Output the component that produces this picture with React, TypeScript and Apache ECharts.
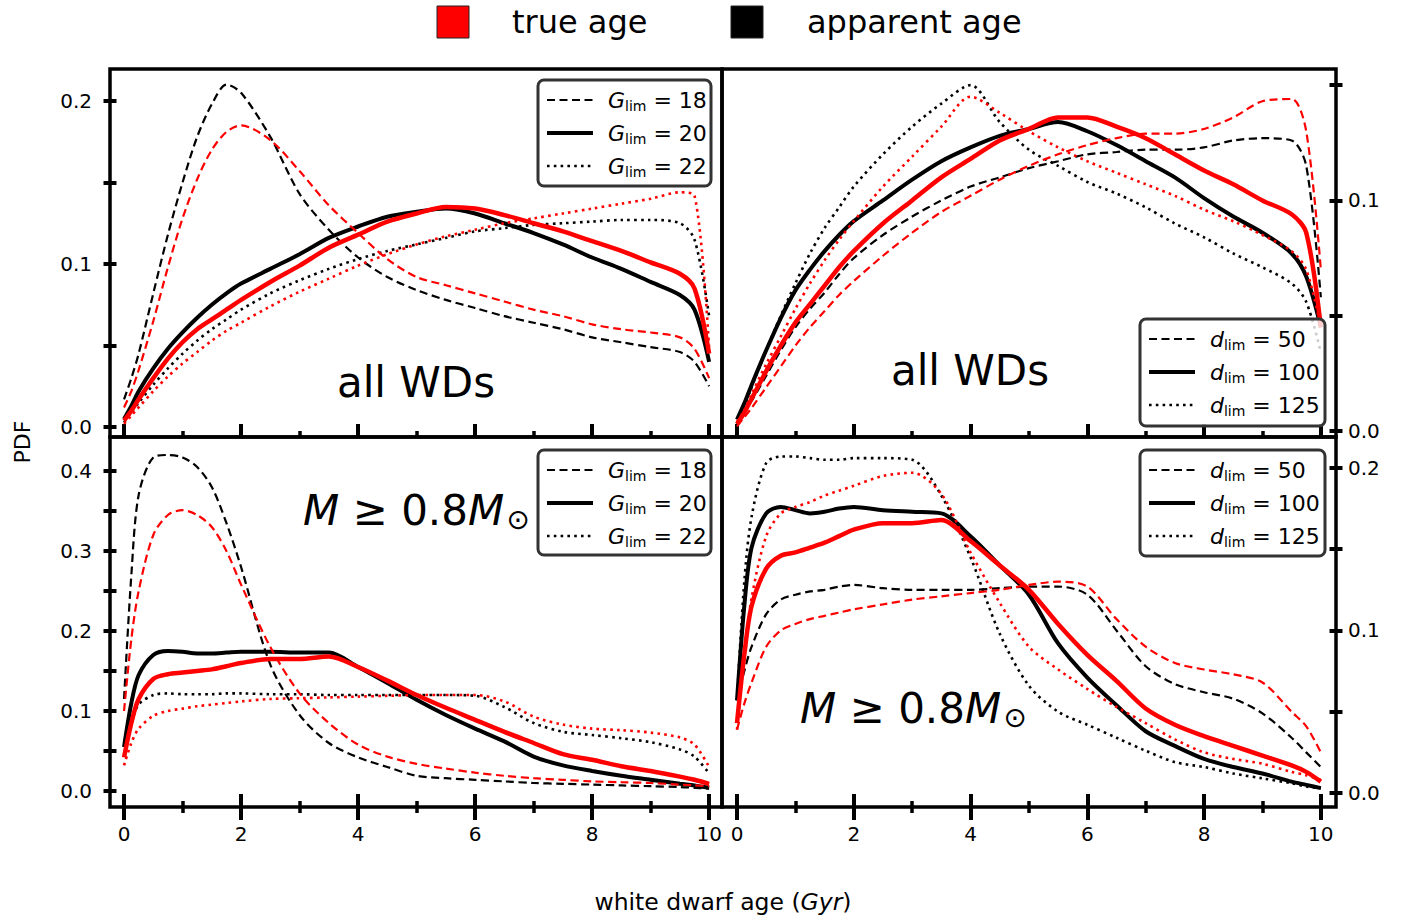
import React, { useEffect, useRef } from 'react';
import * as echarts from 'echarts';

// shared ages (Gyr)
const X = [0, 0.125, 0.25, 0.5, 0.75, 1, 1.25, 1.5, 1.75, 2, 2.5, 3, 3.5, 4, 4.5, 5, 5.5, 6, 6.5, 7, 7.5, 8, 8.5, 9, 9.5, 9.75, 10];

// top-left: all WDs, G_lim
const tlApp18 = [0.017, 0.03, 0.045, 0.082, 0.118, 0.15, 0.178, 0.198, 0.21, 0.205, 0.178, 0.143, 0.121, 0.104, 0.092, 0.084, 0.078, 0.073, 0.068, 0.064, 0.06, 0.055, 0.052, 0.049, 0.046, 0.04, 0.025];
const tlTrue18 = [0.012, 0.022, 0.035, 0.065, 0.098, 0.128, 0.152, 0.17, 0.181, 0.185, 0.176, 0.157, 0.136, 0.119, 0.103, 0.092, 0.087, 0.082, 0.077, 0.072, 0.068, 0.063, 0.06, 0.058, 0.055, 0.048, 0.03];
const tlApp20 = [0.005, 0.013, 0.022, 0.036, 0.048, 0.058, 0.067, 0.075, 0.082, 0.088, 0.097, 0.106, 0.116, 0.123, 0.129, 0.132, 0.134, 0.131, 0.125, 0.119, 0.112, 0.104, 0.097, 0.089, 0.081, 0.072, 0.04];
const tlTrue20 = [0.004, 0.01, 0.017, 0.03, 0.042, 0.052, 0.06, 0.066, 0.072, 0.078, 0.089, 0.099, 0.11, 0.118, 0.126, 0.131, 0.135, 0.134, 0.13, 0.125, 0.12, 0.114, 0.108, 0.101, 0.094, 0.085, 0.045];
const tlApp22 = [0.003, 0.009, 0.015, 0.026, 0.036, 0.045, 0.053, 0.06, 0.066, 0.072, 0.082, 0.09, 0.097, 0.103, 0.108, 0.112, 0.116, 0.12, 0.122, 0.124, 0.125, 0.126, 0.127, 0.127, 0.125, 0.115, 0.068];
const tlTrue22 = [0.002, 0.007, 0.012, 0.022, 0.031, 0.039, 0.046, 0.053, 0.059, 0.064, 0.074, 0.083, 0.091, 0.099, 0.106, 0.112, 0.117, 0.121, 0.125, 0.128, 0.131, 0.134, 0.137, 0.14, 0.144, 0.142, 0.048];

// top-right: all WDs, d_lim
const trApp50 = [0.003, 0.008, 0.013, 0.024, 0.035, 0.045, 0.053, 0.06, 0.068, 0.075, 0.085, 0.093, 0.1, 0.106, 0.11, 0.114, 0.117, 0.12, 0.121, 0.122, 0.122, 0.123, 0.126, 0.127, 0.126, 0.115, 0.058];
const trTrue50 = [0.002, 0.006, 0.01, 0.019, 0.028, 0.037, 0.045, 0.052, 0.059, 0.065, 0.076, 0.086, 0.095, 0.102, 0.109, 0.115, 0.12, 0.124, 0.127, 0.129, 0.129, 0.131, 0.136, 0.143, 0.144, 0.13, 0.07];
const trApp100 = [0.005, 0.012, 0.02, 0.035, 0.049, 0.061, 0.07, 0.078, 0.085, 0.091, 0.1, 0.109, 0.117, 0.123, 0.128, 0.131, 0.134, 0.13, 0.124, 0.117, 0.11, 0.101, 0.093, 0.086, 0.077, 0.067, 0.045];
const trTrue100 = [0.003, 0.008, 0.014, 0.026, 0.037, 0.047, 0.055, 0.063, 0.071, 0.078, 0.09, 0.1, 0.11, 0.118, 0.126, 0.131, 0.136, 0.136, 0.132, 0.127, 0.12, 0.113, 0.107, 0.1, 0.094, 0.086, 0.045];
const trApp125 = [0.005, 0.011, 0.019, 0.035, 0.05, 0.064, 0.077, 0.088, 0.097, 0.106, 0.12, 0.132, 0.142, 0.15, 0.134, 0.122, 0.115, 0.108, 0.103, 0.097, 0.09, 0.084, 0.077, 0.071, 0.064, 0.056, 0.034];
const trTrue125 = [0.004, 0.009, 0.016, 0.029, 0.041, 0.053, 0.064, 0.074, 0.083, 0.091, 0.106, 0.119, 0.132, 0.145, 0.138, 0.13, 0.123, 0.117, 0.112, 0.107, 0.102, 0.096, 0.091, 0.085, 0.078, 0.07, 0.045];

// bottom-left: M >= 0.8 Msun, G_lim
const blApp18 = [0.115, 0.27, 0.37, 0.417, 0.42, 0.417, 0.405, 0.38, 0.335, 0.28, 0.158, 0.095, 0.06, 0.042, 0.03, 0.019, 0.016, 0.014, 0.012, 0.01, 0.009, 0.008, 0.007, 0.006, 0.005, 0.004, 0.003];
const blTrue18 = [0.1, 0.19, 0.25, 0.32, 0.345, 0.351, 0.345, 0.33, 0.3, 0.258, 0.18, 0.122, 0.085, 0.058, 0.043, 0.034, 0.028, 0.023, 0.019, 0.016, 0.014, 0.012, 0.011, 0.01, 0.008, 0.007, 0.006];
const blApp20 = [0.055, 0.11, 0.145, 0.17, 0.175, 0.174, 0.172, 0.172, 0.173, 0.174, 0.174, 0.173, 0.173, 0.155, 0.135, 0.114, 0.095, 0.078, 0.062, 0.043, 0.032, 0.025, 0.019, 0.014, 0.009, 0.007, 0.004];
const blTrue20 = [0.042, 0.085, 0.115, 0.14, 0.146, 0.148, 0.15, 0.152, 0.156, 0.16, 0.165, 0.165, 0.168, 0.155, 0.138, 0.12, 0.104, 0.089, 0.074, 0.06, 0.046, 0.039, 0.031, 0.025, 0.018, 0.014, 0.009];
const blApp22 = [0.045, 0.085, 0.108, 0.12, 0.122, 0.121, 0.121, 0.121, 0.122, 0.122, 0.121, 0.121, 0.12, 0.12, 0.12, 0.12, 0.12, 0.119, 0.105, 0.085, 0.074, 0.07, 0.066, 0.061, 0.052, 0.043, 0.022];
const blTrue22 = [0.032, 0.06, 0.078, 0.094, 0.1, 0.103, 0.106, 0.108, 0.11, 0.112, 0.115, 0.116, 0.117, 0.118, 0.119, 0.12, 0.12, 0.12, 0.112, 0.093, 0.083, 0.078, 0.076, 0.073, 0.067, 0.058, 0.03];

// bottom-right: M >= 0.8 Msun, d_lim
const brApp50 = [0.057, 0.075, 0.09, 0.11, 0.119, 0.122, 0.124, 0.125, 0.127, 0.128, 0.126, 0.125, 0.125, 0.125, 0.126, 0.127, 0.127, 0.122, 0.1, 0.078, 0.067, 0.062, 0.058, 0.049, 0.034, 0.025, 0.016];
const brTrue50 = [0.039, 0.055, 0.068, 0.09, 0.1, 0.104, 0.107, 0.109, 0.111, 0.113, 0.116, 0.119, 0.121, 0.123, 0.125, 0.128, 0.13, 0.127, 0.107, 0.09, 0.08, 0.076, 0.073, 0.068, 0.05, 0.041, 0.025];
const brApp100 = [0.057, 0.115, 0.151, 0.172, 0.176, 0.174, 0.172, 0.173, 0.175, 0.176, 0.174, 0.173, 0.172, 0.158, 0.14, 0.122, 0.092, 0.071, 0.054, 0.038, 0.029, 0.021, 0.016, 0.012, 0.007, 0.005, 0.003];
const brTrue100 = [0.043, 0.085, 0.115, 0.138, 0.146, 0.148, 0.151, 0.154, 0.158, 0.162, 0.166, 0.166, 0.168, 0.155, 0.14, 0.125, 0.104, 0.085, 0.069, 0.052, 0.042, 0.035, 0.029, 0.023, 0.017, 0.013, 0.007];
const brApp125 = [0.057, 0.13, 0.17, 0.203, 0.207, 0.207, 0.206, 0.205, 0.205, 0.206, 0.206, 0.205, 0.183, 0.145, 0.098, 0.066, 0.05, 0.042, 0.034, 0.026, 0.019, 0.016, 0.012, 0.009, 0.006, 0.004, 0.003];
const brTrue125 = [0.039, 0.085, 0.12, 0.158, 0.172, 0.176, 0.179, 0.183, 0.186, 0.189, 0.195, 0.197, 0.184, 0.148, 0.117, 0.09, 0.076, 0.064, 0.053, 0.043, 0.033, 0.025, 0.021, 0.018, 0.013, 0.011, 0.008];

const X_TICKS = [0, 2, 4, 6, 8, 10];
const Y_TICKS_TL = [0, 0.1, 0.2];
const Y_TICKS_TR = [0, 0.1];
const Y_TICKS_BL = [0, 0.1, 0.2, 0.3, 0.4];
const Y_TICKS_BR = [0, 0.1, 0.2];

const G_LABELS = ['18', '20', '22'];
const D_LABELS = ['50', '100', '125'];

const FONT = 'DejaVu Sans';

const STYLES: Record<string, { width: number; type: any }> = {
  dash: { width: 2.2, type: [8, 4.5] },
  solid: { width: 4, type: 'solid' },
  dot: { width: 2.6, type: [2.6, 4.2] },
};

export default function App() {
  const ref = useRef<HTMLDivElement>(null);
  useEffect(() => {
    document.body.style.margin = '0';
    const chart = echarts.init(ref.current!, null, { renderer: 'svg' });

    const grids = [
      { left: 110, top: 69, width: 612, height: 368 },
      { left: 722, top: 69, width: 614, height: 368 },
      { left: 110, top: 437, width: 612, height: 370 },
      { left: 722, top: 437, width: 614, height: 370 },
    ].map((g) => ({ ...g, show: true, borderColor: '#000', borderWidth: 3.5, backgroundColor: 'transparent', z: 3 }));

    const xr = [[-0.24, 10.22], [-0.257, 10.26], [-0.24, 10.22], [-0.257, 10.26]];
    const yr = [[-0.0061, 0.2196], [-0.0026, 0.157], [-0.02, 0.4425], [-0.0086, 0.219]];
    const ySplit = [2, 2, 5, 2];
    const yTicks = [Y_TICKS_TL, Y_TICKS_TR, Y_TICKS_BL, Y_TICKS_BR];

    const fmtX = (v: number) => (Math.abs(v - Math.round(v)) < 1e-6 ? String(Math.round(v)) : '');
    const fmtY = (v: number) => (Math.abs(v * 10 - Math.round(v * 10)) < 1e-6 ? (Math.round(v * 10) / 10).toFixed(1) : '');

    const xAxisDef = (gi: number, labels: boolean, inside: boolean) => ({
      type: 'value', gridIndex: gi, position: 'bottom', min: xr[gi][0], max: xr[gi][1], splitNumber: 5,
      axisLine: { show: false, onZero: false }, splitLine: { show: false },
      axisTick: { show: true, inside, length: 13, customValues: X_TICKS, lineStyle: { color: '#000', width: 4 } },
      minorTick: { show: true, splitNumber: 2, length: 6, lineStyle: { color: '#000', width: 3.5 } },
      axisLabel: { show: labels, customValues: X_TICKS, formatter: fmtX, fontSize: 20, color: '#000', fontFamily: FONT, margin: 17 },
    });
    const yAxisDef = (gi: number, labels: boolean, inside: boolean) => ({
      type: 'value', gridIndex: gi, position: gi % 2 === 0 ? 'left' : 'right', min: yr[gi][0], max: yr[gi][1], splitNumber: ySplit[gi],
      axisLine: { show: false, onZero: false }, splitLine: { show: false },
      axisTick: { show: true, inside, length: 6.5, customValues: yTicks[gi], lineStyle: { color: '#000', width: 4 } },
      minorTick: { show: true, splitNumber: 2, length: 6.5, lineStyle: { color: '#000', width: 4 } },
      axisLabel: { show: labels, customValues: yTicks[gi], formatter: fmtY, fontSize: 20, color: '#000', fontFamily: FONT, margin: gi % 2 === 0 ? 18 : 12 },
    });

    const xAxis = [
      xAxisDef(0, false, true),
      xAxisDef(1, false, true),
      xAxisDef(2, true, false),
      xAxisDef(3, true, false),
      xAxisDef(2, false, true),
      xAxisDef(3, false, true),
    ];
    const yAxis = [
      yAxisDef(0, true, false), yAxisDef(1, true, false), yAxisDef(2, true, false), yAxisDef(3, true, false),
      yAxisDef(0, false, true), yAxisDef(1, false, true), yAxisDef(2, false, true), yAxisDef(3, false, true),
    ];

    const panels = [
      [tlApp18, tlApp20, tlApp22, tlTrue18, tlTrue20, tlTrue22],
      [trApp50, trApp100, trApp125, trTrue50, trTrue100, trTrue125],
      [blApp18, blApp20, blApp22, blTrue18, blTrue20, blTrue22],
      [brApp50, brApp100, brApp125, brTrue50, brTrue100, brTrue125],
    ];
    const kinds = ['dash', 'solid', 'dot'];
    const series: any[] = [];
    panels.forEach((arrs, pi) => {
      arrs.forEach((ys, si) => {
        const isRed = si >= 3;
        const kind = kinds[si % 3];
        const st = STYLES[kind];
        series.push({
          type: 'line', xAxisIndex: pi, yAxisIndex: pi,
          data: X.map((x, i) => [x, ys[i]]),
          showSymbol: false, symbol: 'none', smooth: 0.3, z: 2,
          lineStyle: { color: isRed ? '#ff0000' : '#000000', width: kind === 'solid' && isRed ? 4.5 : st.width, type: st.type },
          silent: true,
        });
      });
    });

    const legendBox = (bx: number, by: number, w: number, h: number, labels: string[], letter: string) => {
      const rows = [20, 53, 86];
      const els: any[] = [
        { type: 'rect', shape: { x: bx, y: by, width: w, height: h, r: 6 }, style: { fill: 'rgba(255,255,255,0.8)', stroke: '#333', lineWidth: 3 }, z: 100 },
      ];
      kinds.forEach((k, i) => {
        const st = STYLES[k];
        els.push({
          type: 'line', shape: { x1: bx + 9, y1: by + rows[i], x2: bx + 55, y2: by + rows[i] },
          style: { stroke: '#000', lineWidth: st.width, lineDash: Array.isArray(st.type) ? st.type : null }, z: 101,
        });
        els.push({
          type: 'text', x: bx + 70, y: by + rows[i],
          style: {
            text: `{i|${letter}}{s|lim} = ${labels[i]}`,
            rich: {
              i: { fontStyle: 'italic', fontSize: 22, fontFamily: FONT, fill: '#000' },
              s: { fontSize: 14, fontFamily: FONT, fill: '#000', padding: [12, 0, 0, 0] },
            },
            fontSize: 22, fontFamily: FONT, fill: '#000', align: 'left', verticalAlign: 'middle',
          },
          z: 101,
        });
      });
      return els;
    };

    const massLabel = (x: number, y: number) => ({
      type: 'text', x, y, z: 50,
      style: {
        text: '{i|M} ≥ 0.8{i|M}{s|⊙}',
        rich: {
          i: { fontStyle: 'italic', fontSize: 42, fontFamily: FONT, fill: '#000' },
          s: { fontSize: 28, fontFamily: FONT, fill: '#000', padding: [18, 0, 0, 2] },
        },
        fontSize: 42, fontFamily: FONT, fill: '#000', align: 'left', verticalAlign: 'middle',
      },
    });

    const graphic: any[] = [
      { type: 'rect', shape: { x: 437, y: 6, width: 32, height: 32 }, style: { fill: '#ff0000', stroke: '#222', lineWidth: 1 } },
      { type: 'text', x: 512, y: 22, style: { text: 'true age', fontSize: 32, fontFamily: FONT, fill: '#000', align: 'left', verticalAlign: 'middle' } },
      { type: 'rect', shape: { x: 731, y: 6, width: 32, height: 32 }, style: { fill: '#000000', stroke: '#222', lineWidth: 1 } },
      { type: 'text', x: 807, y: 22, style: { text: 'apparent age', fontSize: 32, fontFamily: FONT, fill: '#000', align: 'left', verticalAlign: 'middle' } },
      { type: 'text', x: 22, y: 442, rotation: Math.PI / 2, style: { text: 'PDF', fontSize: 22, fontFamily: FONT, fill: '#000', align: 'center', verticalAlign: 'middle' } },
      {
        type: 'text', x: 723, y: 902,
        style: {
          text: 'white dwarf age ({i|Gyr})',
          rich: { i: { fontStyle: 'italic', fontSize: 23.5, fontFamily: FONT, fill: '#000' } },
          fontSize: 23.5, fontFamily: FONT, fill: '#000', align: 'center', verticalAlign: 'middle',
        },
      },
      { type: 'text', x: 416, y: 382, z: 50, style: { text: 'all WDs', fontSize: 42, fontFamily: FONT, fill: '#000', align: 'center', verticalAlign: 'middle' } },
      { type: 'text', x: 970, y: 370, z: 50, style: { text: 'all WDs', fontSize: 42, fontFamily: FONT, fill: '#000', align: 'center', verticalAlign: 'middle' } },
      massLabel(303, 510),
      massLabel(800, 708),
      ...legendBox(538, 80, 173, 106, G_LABELS, 'G'),
      ...legendBox(1140, 319, 185, 107, D_LABELS, 'd'),
      ...legendBox(538, 450, 173, 105, G_LABELS, 'G'),
      ...legendBox(1140, 450, 185, 106, D_LABELS, 'd'),
    ];

    chart.setOption({
      animation: false,
      backgroundColor: '#ffffff',
      textStyle: { fontFamily: FONT },
      grid: grids,
      xAxis,
      yAxis,
      series,
      graphic,
    });
    return () => chart.dispose();
  }, []);
  return <div ref={ref} style={{ width: 1411, height: 918 }} />;
}
